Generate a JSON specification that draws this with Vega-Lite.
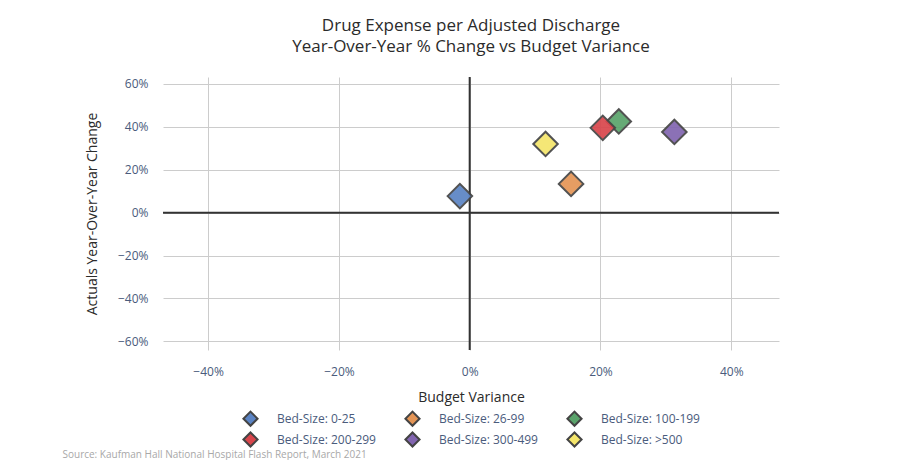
{
  "$schema": "https://vega.github.io/schema/vega-lite/v6.json",
  "background": "white",
  "autosize": {"type": "pad"},
  "padding": {"left": 62, "top": 17, "right": 5, "bottom": 0},
  "config": {
    "font": "Open Sans",
    "view": {"stroke": null},
    "axis": {
      "labelFont": "Open Sans",
      "labelFontSize": 12,
      "labelColor": "#4a5b7c",
      "titleFont": "Open Sans",
      "titleFontSize": 14,
      "titleFontWeight": "normal",
      "titleColor": "#2b2b2b",
      "grid": true,
      "gridColor": "#cccccc",
      "gridWidth": 1,
      "domain": false,
      "ticks": false
    },
    "legend": {
      "labelFont": "Open Sans",
      "labelFontSize": 12,
      "labelColor": "#4a5b7c",
      "layout": {"bottom": {"anchor": "middle"}}
    }
  },
  "title": {
    "text": "Source: Kaufman Hall National Hospital Flash Report, March 2021",
    "orient": "bottom",
    "anchor": "start",
    "fontSize": 10,
    "fontWeight": "normal",
    "color": "#a8a8a8",
    "font": "Open Sans",
    "offset": -1,
    "dx": -23
  },
  "vconcat": [
    {
      "width": 616,
      "height": 273,
      "title": {
        "text": ["Drug Expense per Adjusted Discharge", "Year-Over-Year % Change vs Budget Variance"],
        "fontSize": 17,
        "fontWeight": "normal",
        "color": "#2b2b2b",
        "font": "Open Sans",
        "lineHeight": 21,
        "anchor": "middle",
        "offset": 20
      },
      "layer": [
        {
          "data": {"values": [{"zero": 0}]},
          "mark": {"type": "rule", "color": "#333333", "strokeWidth": 2},
          "encoding": {"x": {"datum": 0, "type": "quantitative"}}
        },
        {
          "data": {"values": [{"zero": 0}]},
          "mark": {"type": "rule", "color": "#333333", "strokeWidth": 2},
          "encoding": {"y": {"datum": 0, "type": "quantitative"}}
        },
        {
          "data": {
            "values": [
              {"Bed Size": "Bed-Size: 0-25", "Budget Variance": -0.015, "YoY Change": 0.077},
              {"Bed Size": "Bed-Size: 26-99", "Budget Variance": 0.155, "YoY Change": 0.134},
              {"Bed Size": "Bed-Size: 100-199", "Budget Variance": 0.228, "YoY Change": 0.425},
              {"Bed Size": "Bed-Size: 200-299", "Budget Variance": 0.2035, "YoY Change": 0.395},
              {"Bed Size": "Bed-Size: 300-499", "Budget Variance": 0.313, "YoY Change": 0.376},
              {"Bed Size": "Bed-Size: >500", "Budget Variance": 0.116, "YoY Change": 0.32}
            ]
          },
          "mark": {"type": "point", "shape": "diamond", "filled": true, "size": 600, "stroke": "#444444", "strokeWidth": 2, "opacity": 0.92},
          "encoding": {
            "x": {
              "field": "Budget Variance",
              "type": "quantitative",
              "title": "Budget Variance",
              "scale": {"domain": [-0.469, 0.473], "nice": false, "zero": false},
              "axis": {"format": ".0%", "values": [-0.4, -0.2, 0, 0.2, 0.4], "labelPadding": 16, "titlePadding": 13, "grid": true}
            },
            "y": {
              "field": "YoY Change",
              "type": "quantitative",
              "title": "Actuals Year-Over-Year Change",
              "scale": {"domain": [-0.64, 0.632], "nice": false, "zero": false},
              "axis": {"format": ".0%", "values": [-0.6, -0.4, -0.2, 0, 0.2, 0.4, 0.6], "labelPadding": 15, "titlePadding": 18, "grid": true}
            },
            "color": {
              "field": "Bed Size",
              "type": "nominal",
              "sort": null,
              "scale": {
                "domain": ["Bed-Size: 0-25", "Bed-Size: 26-99", "Bed-Size: 100-199", "Bed-Size: 200-299", "Bed-Size: 300-499", "Bed-Size: >500"],
                "range": ["#5b84c4", "#e49556", "#5aa36b", "#d9464c", "#8265b0", "#f5e66b"]
              },
              "legend": {
                "title": null,
                "orient": "bottom",
                "direction": "horizontal",
                "columns": 3,
                "symbolType": "diamond",
                "symbolSize": 200,
                "symbolStrokeColor": "#444444",
                "symbolStrokeWidth": 2,
                "symbolOpacity": 1,
                "labelOffset": 18,
                "columnPadding": 25,
                "rowPadding": -2,
                "offset": 6
              }
            }
          }
        }
      ]
    }
  ]
}
